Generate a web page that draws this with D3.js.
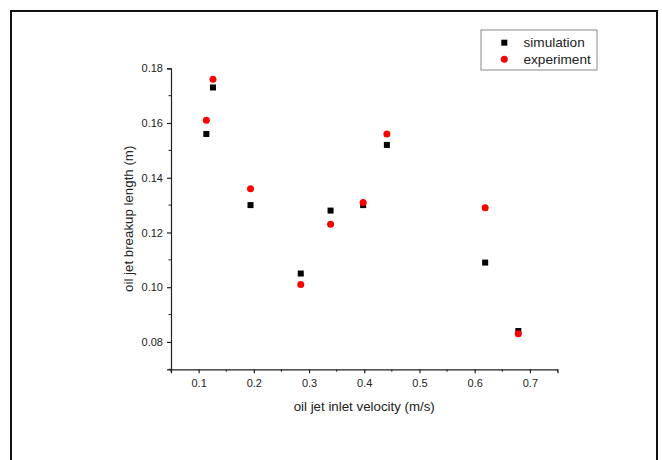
<!DOCTYPE html>
<html>
<head>
<meta charset="utf-8">
<script src="https://cdn.jsdelivr.net/npm/d3@7"></script>
<style>
  body { margin: 0; background: #fff; }
  text { font-family: "Liberation Sans", Arial, sans-serif; fill: #222; }
</style>
</head>
<body>
<script>
var w = 662;
var h = 460;

// inlet velocity (m/s)
var velocity = [0.114, 0.126, 0.194, 0.285, 0.339, 0.398, 0.441, 0.619, 0.679];
// breakup length (m)
var simulation = [0.156, 0.173, 0.130, 0.105, 0.128, 0.130, 0.152, 0.109, 0.084];
var experiment = [0.161, 0.176, 0.136, 0.101, 0.123, 0.131, 0.156, 0.129, 0.083];

var xTicks = [0.1, 0.2, 0.3, 0.4, 0.5, 0.6, 0.7];
var yTicks = [0.08, 0.10, 0.12, 0.14, 0.16, 0.18];
var seriesNames = ["simulation", "experiment"];

var svg = d3.select("body").append("svg")
  .attr("width", w)
  .attr("height", h);

// outer frame
svg.append("rect")
  .attr("x", 11).attr("y", 11)
  .attr("width", 646).attr("height", 470)
  .attr("fill", "none")
  .attr("stroke", "#111")
  .attr("stroke-width", 2);

var x = d3.scaleLinear().domain([0.05, 0.75]).range([171, 557.5]);
var y = d3.scaleLinear().domain([0.07, 0.18]).range([369.3, 68.3]);

// minor ticks halfway between major ones
var xMinor = d3.range(0.05, 0.751, 0.05).filter(v => Math.abs(v * 10 - Math.round(v * 10)) > 0.01);
var yMinor = d3.range(0.07, 0.181, 0.02);

var xAxis = svg.append("g")
  .attr("transform", "translate(0," + y.range()[0] + ")")
  .call(d3.axisBottom(x).tickValues(xTicks).tickFormat(d3.format(".1f")).tickSizeOuter(0).tickSize(4).tickPadding(6));

xAxis.selectAll(".minor")
  .data(xMinor)
  .enter().append("line")
  .attr("x1", d => x(d)).attr("x2", d => x(d))
  .attr("y1", 0).attr("y2", 2.5)
  .attr("stroke", "#222");

var yAxis = svg.append("g")
  .attr("transform", "translate(" + x.range()[0] + ",0)")
  .call(d3.axisLeft(y).tickValues(yTicks).tickFormat(d3.format(".2f")).tickSizeOuter(0).tickSize(4).tickPadding(4));

yAxis.selectAll(".minor")
  .data(yMinor)
  .enter().append("line")
  .attr("y1", d => y(d)).attr("y2", d => y(d))
  .attr("x1", 0).attr("x2", -2.5)
  .attr("stroke", "#222");

svg.selectAll(".domain, .tick line").attr("stroke", "#222").attr("stroke-width", 1.2);
svg.selectAll(".tick text").style("font-size", "11px").attr("fill", "#222");

// axis titles
svg.append("text")
  .attr("x", (x.range()[0] + x.range()[1]) / 2)
  .attr("y", 411)
  .attr("text-anchor", "middle")
  .style("font-size", "13.3px")
  .text("oil jet inlet velocity (m/s)");

svg.append("text")
  .attr("transform", "translate(133," + (y.range()[0] + y.range()[1]) / 2 + ") rotate(-90)")
  .attr("text-anchor", "middle")
  .style("font-size", "13.3px")
  .text("oil jet breakup length (m)");

// simulation squares, drawn first
var sq = 6;
svg.append("g").selectAll("rect")
  .data(velocity.map((v, i) => [v, simulation[i]]))
  .enter().append("rect")
  .attr("x", d => x(d[0]) - sq / 2)
  .attr("y", d => y(d[1]) - sq / 2)
  .attr("width", sq).attr("height", sq)
  .attr("fill", "#000");

// experiment circles on top
svg.append("g").selectAll("circle")
  .data(velocity.map((v, i) => [v, experiment[i]]))
  .enter().append("circle")
  .attr("cx", d => x(d[0]))
  .attr("cy", d => y(d[1]))
  .attr("r", 3.5)
  .attr("fill", "#f00");

// legend
var legend = svg.append("g").attr("transform", "translate(481,30)");
legend.append("rect")
  .attr("width", 116).attr("height", 40)
  .attr("fill", "#fff")
  .attr("stroke", "#888")
  .attr("stroke-width", 1);

var items = legend.selectAll("g.item")
  .data(seriesNames)
  .enter().append("g")
  .attr("transform", (d, i) => "translate(0," + (12.7 + i * 16.6) + ")");

items.filter((d, i) => i === 0).append("rect")
  .attr("x", 23.3 - sq / 2).attr("y", -sq / 2)
  .attr("width", sq).attr("height", sq)
  .attr("fill", "#000");

items.filter((d, i) => i === 1).append("circle")
  .attr("cx", 23.3).attr("cy", 0)
  .attr("r", 3.5)
  .attr("fill", "#f00");

items.append("text")
  .attr("x", 42.5)
  .attr("y", 4.6)
  .style("font-size", "13.6px")
  .text(d => d);
</script>
</body>
</html>
